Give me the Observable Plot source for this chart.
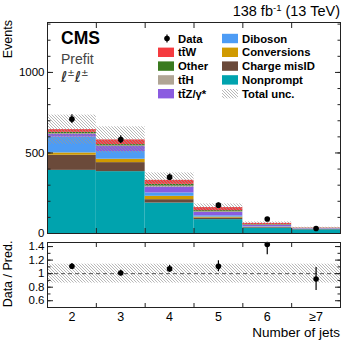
<!DOCTYPE html>
<html><head><meta charset="utf-8">
<script src="https://cdn.jsdelivr.net/npm/d3@7"></script>
<script src="https://cdn.jsdelivr.net/npm/@observablehq/plot@0.6"></script>
<style>
body{margin:0;background:#fff;}
#chart{position:relative;width:349px;height:343px;font-family:"Liberation Sans",Arial,sans-serif;}
#chart svg{position:absolute;left:0;}
</style></head><body><div id="chart"></div>
<script>
// ---- data ----
const bins = ["2", "3", "4", "5", "6", "≥7"];
const nonprompt   = [392, 384, 189, 86, 33, 23];
const chargeMisID = [94, 56, 21, 10, 4, 2];
const conversions = [14, 21, 21, 6, 2, 1];
const diboson     = [98, 48, 21, 8, 3, 1];
const ttZ         = [17, 31, 36, 21, 8, 3];
const ttH         = [5, 4, 6, 4, 2, 1];
const other       = [8, 8, 11, 7, 3, 1];
const ttW         = [17, 29, 25, 19, 8, 2];
const dataCounts  = [710, 583, 350, 176, 90, 31];
const dataErr     = [27, 24, 19, 13, 9.5, 5.6];
const totalUnc    = [0.14, 0.14, 0.14, 0.14, 0.14, 0.14];
const ratio       = [1.11, 1.01, 1.07, 1.11, 1.43, 0.92];
const ratioErr    = [0.04, 0.04, 0.05, 0.08, 0.15, 0.17];

const processes = ["Nonprompt", "Charge misID", "Conversions", "Diboson", "tt\u0304Z/γ*", "tt\u0304H", "Other", "tt\u0304W"];
const colors    = ["#00a3ae", "#6b4a3a", "#d09a00", "#4d9cf5", "#8a5be0", "#b0a595", "#3a7a1f", "#f53b3f"];
const series    = [nonprompt, chargeMisID, conversions, diboson, ttZ, ttH, other, ttW];

// ---- tidy tables ----
const stack = [];
processes.forEach((p, k) => series[k].forEach((v, i) => stack.push({i, process: p, value: v})));
const totals = bins.map((_, i) => d3.sum(series, s => s[i]));
const band = bins.map((_, i) => ({i, lo: totals[i] * (1 - totalUnc[i]), hi: totals[i] * (1 + totalUnc[i])}));
const pts = bins.map((_, i) => ({i, y: dataCounts[i], e: dataErr[i], r: ratio[i], re: ratioErr[i],
  lo: 1 - totalUnc[i], hi: 1 + totalUnc[i]}));

const font = '"Liberation Sans", Arial, sans-serif';
const style = {fontFamily: font, fontSize: "11.5px", color: "#000", background: "transparent", overflow: "visible"};
const edges = [1, 2, 3, 4, 5];
const blank = () => "";

const main = Plot.plot({
  width: 349, height: 236, marginTop: 22, marginBottom: 3, marginLeft: 47, marginRight: 9,
  style,
  x: {domain: [0, 6]},
  y: {domain: [0, 1310]},
  color: {domain: processes, range: colors},
  marks: [
    Plot.rectY(stack, {x1: "i", x2: d => d.i + 1, y: "value", fill: "process"}),
    Plot.rect(band, {x1: "i", x2: d => d.i + 1, y1: "lo", y2: "hi", fill: "url(#hatchMain)"}),
    Plot.ruleX(pts, {x: d => d.i + 0.5, y1: d => d.y - d.e, y2: d => d.y + d.e, stroke: "#000", strokeWidth: 1.2}),
    Plot.dot(pts, {x: d => d.i + 0.5, y: "y", r: 2.8, fill: "#000"}),
    Plot.frame({stroke: "#222"}),
    Plot.axisY({ticks: [0, 500, 1000], tickSize: -6, tickPadding: 9, label: null, stroke: "#222", tickFormat: d => String(d)}),
    Plot.axisY({ticks: d3.range(0, 1301, 100), tickSize: -3.5, tickFormat: blank, label: null, stroke: "#222"}),
    Plot.axisY({anchor: "right", ticks: [0, 500, 1000], tickSize: -6, tickFormat: blank, label: null, stroke: "#222"}),
    Plot.axisY({anchor: "right", ticks: d3.range(0, 1301, 100), tickSize: -3.5, tickFormat: blank, label: null, stroke: "#222"}),
    Plot.axisX({anchor: "top", ticks: edges, tickSize: -5, tickFormat: blank, label: null, stroke: "#222"}),
    Plot.axisX({anchor: "bottom", ticks: edges, tickSize: -5, tickFormat: blank, label: null, stroke: "#222"})
  ]
});

const ratioPlot = Plot.plot({
  width: 349, height: 107, marginTop: 6, marginBottom: 36, marginLeft: 47, marginRight: 9,
  style,
  x: {domain: [0, 6]},
  y: {domain: [0.5, 1.46]},
  marks: [
    Plot.rect(pts, {x1: "i", x2: d => d.i + 1, y1: "lo", y2: "hi", fill: "url(#hatchRatio)"}),
    Plot.ruleY([1], {stroke: "#444", strokeWidth: 0.9, strokeDasharray: "4,3"}),
    Plot.ruleX(pts, {x: d => d.i + 0.5, y1: d => d.r - d.re, y2: d => d.r + d.re, stroke: "#000", strokeWidth: 1.2, clip: true}),
    Plot.dot(pts, {x: d => d.i + 0.5, y: "r", r: 2.8, fill: "#000"}),
    Plot.frame({stroke: "#222"}),
    Plot.axisY({ticks: [0.6, 0.8, 1, 1.2, 1.4], tickSize: -6, tickPadding: 9, label: null, stroke: "#222",
      tickFormat: d => String(+d.toFixed(1))}),
    Plot.axisY({ticks: d3.range(0.5, 1.46, 0.1), tickSize: -3.5, tickFormat: blank, label: null, stroke: "#222"}),
    Plot.axisY({anchor: "right", ticks: [0.6, 0.8, 1, 1.2, 1.4], tickSize: -6, tickFormat: blank, label: null, stroke: "#222"}),
    Plot.axisY({anchor: "right", ticks: d3.range(0.5, 1.46, 0.1), tickSize: -3.5, tickFormat: blank, label: null, stroke: "#222"}),
    Plot.axisX({anchor: "top", ticks: edges, tickSize: -4, tickFormat: blank, label: null, stroke: "#222"}),
    Plot.axisX({anchor: "bottom", ticks: edges, tickSize: -4, tickFormat: blank, label: null, stroke: "#222"}),
    Plot.axisX({anchor: "bottom", ticks: [0.5, 1.5, 2.5, 3.5, 4.5, 5.5], tickSize: 0, tickPadding: 5, label: null,
      fontSize: 12.5, tickFormat: d => bins[Math.floor(d)]})
  ]
});

function addHatch(svg, id) {
  const p = d3.select(svg).insert("defs", ":first-child").append("pattern")
    .attr("id", id).attr("patternUnits", "userSpaceOnUse").attr("width", 3).attr("height", 3);
  p.append("path").attr("d", "M-1,-1L4,4M-1,2L1,4M2,-1L4,1")
    .attr("stroke", "#999").attr("stroke-width", 0.7).attr("fill", "none");
}
addHatch(main, "hatchMain");
addHatch(ratioPlot, "hatchRatio");

const chart = document.getElementById("chart");
main.style.top = "0px";
ratioPlot.style.top = "236px";
chart.appendChild(main);
chart.appendChild(ratioPlot);

// ---- annotations ----
const m = d3.select(main).append("g").attr("font-family", font).attr("text-anchor", "start");
const title = m.append("text").attr("x", 340).attr("y", 16).attr("text-anchor", "end").attr("font-size", 14.5);
title.append("tspan").text("138 fb");
title.append("tspan").attr("dy", -5.5).attr("font-size", 9.5).text("-1");
title.append("tspan").attr("dy", 5.5).text(" (13 TeV)");

m.append("text").attr("transform", "translate(12,20) rotate(-90)").attr("text-anchor", "end")
  .attr("font-size", 12.5).text("Events");
m.append("text").attr("x", 61).attr("y", 44).attr("font-size", 17.5).attr("font-weight", "bold").text("CMS");
m.append("text").attr("x", 61).attr("y", 64).attr("font-size", 14).attr("fill", "#444").text("Prefit");
const ll = m.append("text").attr("x", 61).attr("y", 82).attr("font-size", 15).attr("font-family", "DejaVu Sans").attr("fill", "#222");
ll.append("tspan").text("ℓ");
ll.append("tspan").attr("dy", -6).attr("font-size", 9).text("±");
ll.append("tspan").attr("dy", 6).text("ℓ");
ll.append("tspan").attr("dy", -6).attr("font-size", 9).text("±");

// legend
const rowY = [38.5, 52.3, 66.1, 79.9, 93.7];
const lg = m.append("g").attr("font-size", 11.3).attr("font-weight", "bold").attr("text-anchor", "start");
const col1 = [{label: "Data"}, {label: "tt\u0304W", k: 7}, {label: "Other", k: 6}, {label: "tt\u0304H", k: 5}, {label: "tt\u0304Z/γ*", k: 4}];
const col2 = [{label: "Diboson", k: 3}, {label: "Conversions", k: 2}, {label: "Charge misID", k: 1}, {label: "Nonprompt", k: 0}, {label: "Total unc.", hatch: true}];
col1.forEach((d, r) => {
  const y = rowY[r];
  if (d.k === undefined) {
    lg.append("line").attr("x1", 167).attr("x2", 167).attr("y1", y - 4).attr("y2", y + 4).attr("stroke", "#000").attr("stroke-width", 1.2);
    lg.append("circle").attr("cx", 167).attr("cy", y).attr("r", 2.8).attr("fill", "#000");
  } else {
    lg.append("rect").attr("x", 158).attr("y", y - 4.7).attr("width", 16).attr("height", 9.4).attr("fill", colors[d.k]);
  }
  lg.append("text").attr("x", 178).attr("y", y).attr("dy", "0.36em").text(d.label);
});
col2.forEach((d, r) => {
  const y = rowY[r];
  lg.append("rect").attr("x", 222).attr("y", y - 4.7).attr("width", 16).attr("height", 9.4)
    .attr("fill", d.hatch ? "url(#hatchMain)" : colors[d.k]);
  lg.append("text").attr("x", 242).attr("y", y).attr("dy", "0.36em").text(d.label);
});

const rg = d3.select(ratioPlot).append("g").attr("font-family", font);
rg.append("text").attr("transform", "translate(12,38) rotate(-90)").attr("text-anchor", "middle")
  .attr("font-size", 12.5).text("Data / Pred.");
rg.append("text").attr("x", 340).attr("y", 101).attr("text-anchor", "end").attr("font-size", 13.5).text("Number of jets");
</script>
</body></html>
